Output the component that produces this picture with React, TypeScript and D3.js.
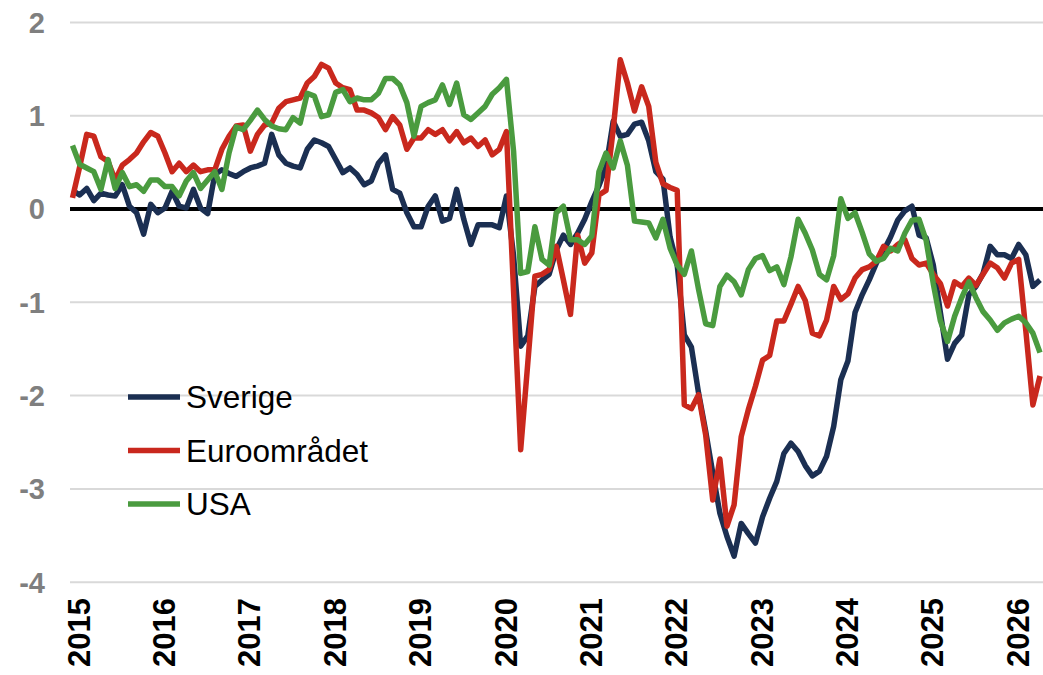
import React, { useRef, useEffect } from "react";
import * as d3 from "d3";

// monthly values, Jan 2015 .. May 2026
const sverige = [
  0.2, 0.15, 0.22, 0.09, 0.17, 0.15, 0.14, 0.26, 0.03, -0.04, -0.27, 0.05,
  -0.04, 0.01, 0.19, 0.03, 0.01, 0.21, 0.01, -0.05, 0.37, 0.42, 0.38, 0.35,
  0.4, 0.44, 0.46, 0.49, 0.8, 0.58, 0.49, 0.46, 0.44, 0.64, 0.74, 0.71,
  0.67, 0.53, 0.39, 0.44, 0.37, 0.26, 0.3, 0.49, 0.58, 0.21, 0.17, -0.04,
  -0.19, -0.19, 0.03, 0.14, -0.13, -0.1, 0.21, -0.11, -0.38, -0.17, -0.17, -0.17,
  -0.2, 0.14, -0.5, -1.47, -1.36, -0.83, -0.76, -0.7, -0.44, -0.28, -0.38, -0.26,
  -0.11, 0.08, 0.25, 0.45, 0.94, 0.78, 0.8, 0.91, 0.93, 0.73, 0.4, 0.32,
  -0.3, -0.6, -1.35, -1.48, -1.97, -2.38, -2.83, -3.26, -3.51, -3.72, -3.37, -3.48,
  -3.58, -3.3, -3.1, -2.92, -2.62, -2.51, -2.6, -2.75, -2.86, -2.81, -2.65, -2.33,
  -1.83, -1.63, -1.11, -0.92, -0.76, -0.58, -0.45, -0.3, -0.12, -0.02, 0.03, -0.28,
  -0.31, -0.6, -1.11, -1.61, -1.44, -1.35, -0.92, -0.83, -0.69, -0.4, -0.49, -0.49,
  -0.53, -0.38, -0.49, -0.83, -0.76,
];

const euroomradet = [
  0.12, 0.45, 0.8, 0.78, 0.56, 0.51, 0.31, 0.47, 0.53, 0.6, 0.72, 0.82,
  0.78, 0.6, 0.4, 0.49, 0.4, 0.47, 0.4, 0.42, 0.42, 0.64, 0.78, 0.89,
  0.9, 0.62, 0.8, 0.9, 0.92, 1.08, 1.15, 1.17, 1.19, 1.35, 1.42, 1.55,
  1.51, 1.35, 1.3, 1.28, 1.06, 1.06, 1.03, 0.98, 0.85, 0.99, 0.9, 0.64,
  0.76, 0.76, 0.85, 0.8, 0.85, 0.73, 0.83, 0.71, 0.76, 0.67, 0.74, 0.58,
  0.64, 0.83, -0.88, -2.58, -1.65, -0.72, -0.7, -0.65, -0.4, -0.76, -1.13, -0.28,
  -0.58, -0.47, 0.15, 0.2, 0.85, 1.6, 1.35, 1.05, 1.31, 1.1, 0.5, 0.27,
  0.23, 0.2, -2.1, -2.14, -1.99, -2.42, -3.12, -2.68, -3.4, -3.17, -2.44, -2.15,
  -1.9, -1.62, -1.57, -1.2, -1.2, -1.02, -0.83, -0.98, -1.33, -1.36, -1.19, -0.83,
  -0.97, -0.91, -0.74, -0.65, -0.62, -0.56, -0.4, -0.45, -0.38, -0.33, -0.53, -0.6,
  -0.58, -0.7, -0.8, -1.04, -0.78, -0.83, -0.74, -0.82, -0.7, -0.58, -0.63, -0.74,
  -0.58, -0.54, -1.3, -2.1, -1.79,
];

const usa = [
  0.68, 0.48, 0.44, 0.4, 0.21, 0.53, 0.22, 0.39, 0.24, 0.26, 0.19, 0.31,
  0.31, 0.24, 0.24, 0.14, 0.3, 0.39, 0.22, 0.31, 0.4, 0.21, 0.6, 0.88,
  0.85, 0.95, 1.06, 0.96, 0.89, 0.86, 0.85, 0.98, 0.92, 1.24, 1.21, 0.99,
  1.01, 1.25, 1.28, 1.15, 1.19, 1.17, 1.17, 1.24, 1.4, 1.4, 1.33, 1.14,
  0.78, 1.1, 1.14, 1.17, 1.33, 1.12, 1.35, 1.01, 0.96, 1.03, 1.1, 1.23,
  1.3, 1.39, 0.62, -0.69, -0.67, -0.19, -0.54, -0.6, -0.04, 0.03, -0.33, -0.33,
  -0.38, -0.29, 0.4, 0.6, 0.44, 0.73, 0.47, -0.13, -0.14, -0.15, -0.31, -0.11,
  -0.42, -0.6, -0.7, -0.45, -0.86, -1.23, -1.25, -0.83, -0.71, -0.78, -0.92, -0.65,
  -0.53, -0.5, -0.66, -0.62, -0.81, -0.51, -0.11, -0.26, -0.44, -0.7, -0.76, -0.5,
  0.11, -0.1, -0.04, -0.25, -0.48, -0.56, -0.53, -0.42, -0.45, -0.26, -0.12, -0.11,
  -0.34, -0.8, -1.2, -1.42, -1.15, -0.95, -0.78, -0.95, -1.1, -1.19, -1.3, -1.22,
  -1.18, -1.15, -1.22, -1.33, -1.54,
];

const years = ["2015", "2016", "2017", "2018", "2019", "2020", "2021", "2022", "2023", "2024", "2025", "2026"];
const yTicks = [2, 1, 0, -1, -2, -3, -4];
const seriesNames = ["Sverige", "Euroområdet", "USA"];
const seriesColors = ["#1b2f52", "#c9281d", "#4a9b3f"];

const App = () => {
  const svgRef = useRef<SVGSVGElement>(null);

  useEffect(() => {
    const width = 1043;
    const height = 675;
    const font = "'Liberation Sans', Arial, sans-serif";

    const svg = d3.select(svgRef.current).attr("width", width).attr("height", height);
    svg.selectAll("*").remove();

    const x = d3.scaleLinear().domain([0, sverige.length - 1]).range([72.5, 1040]);
    const y = d3.scaleLinear().domain([-4, 2]).range([582.2, 22.4]);

    // gridlines
    svg
      .append("g")
      .selectAll("line")
      .data(yTicks.filter((d) => d !== 0))
      .enter()
      .append("line")
      .attr("x1", 70)
      .attr("x2", width)
      .attr("y1", (d) => y(d))
      .attr("y2", (d) => y(d))
      .attr("stroke", "#d9d9d9")
      .attr("stroke-width", 2);

    // y labels
    svg
      .append("g")
      .selectAll("text")
      .data(yTicks)
      .enter()
      .append("text")
      .attr("x", 45)
      .attr("y", (d) => y(d))
      .attr("dy", "0.36em")
      .attr("text-anchor", "end")
      .attr("font-family", font)
      .attr("font-weight", "bold")
      .attr("font-size", 29)
      .attr("fill", "#7f7f7f")
      .text((d) => String(d));

    // zero line
    svg
      .append("line")
      .attr("x1", 70)
      .attr("x2", width)
      .attr("y1", y(0))
      .attr("y2", y(0))
      .attr("stroke", "#000")
      .attr("stroke-width", 4);

    const line = d3
      .line<number>()
      .x((d, i) => x(i))
      .y((d) => y(d));

    [sverige, euroomradet, usa].forEach((s, k) => {
      svg
        .append("path")
        .datum(s)
        .attr("d", line)
        .attr("fill", "none")
        .attr("stroke", seriesColors[k])
        .attr("stroke-width", 5.5)
        .attr("stroke-linejoin", "round");
    });

    // x labels, rotated
    svg
      .append("g")
      .selectAll("text")
      .data(years)
      .enter()
      .append("text")
      .attr("transform", (d, i) => `translate(${x(i * 12) + 6},598) rotate(-90)`)
      .attr("dy", "0.36em")
      .attr("text-anchor", "end")
      .attr("font-family", font)
      .attr("font-weight", "bold")
      .attr("font-size", 31)
      .attr("fill", "#000")
      .text((d) => d);

    // legend
    const legend = svg.append("g");
    seriesNames.forEach((name, k) => {
      const ly = 397 + k * 53.5;
      legend
        .append("line")
        .attr("x1", 128)
        .attr("x2", 180)
        .attr("y1", ly)
        .attr("y2", ly)
        .attr("stroke", seriesColors[k])
        .attr("stroke-width", 5.5);
      legend
        .append("text")
        .attr("x", 186)
        .attr("y", ly)
        .attr("dy", "0.36em")
        .attr("font-family", font)
        .attr("font-size", 31.5)
        .attr("fill", "#000")
        .text(name);
    });
  }, []);

  return (
    <div style={{ position: "absolute", left: 0, top: 0 }}>
      <svg ref={svgRef}></svg>
    </div>
  );
};

export default App;
